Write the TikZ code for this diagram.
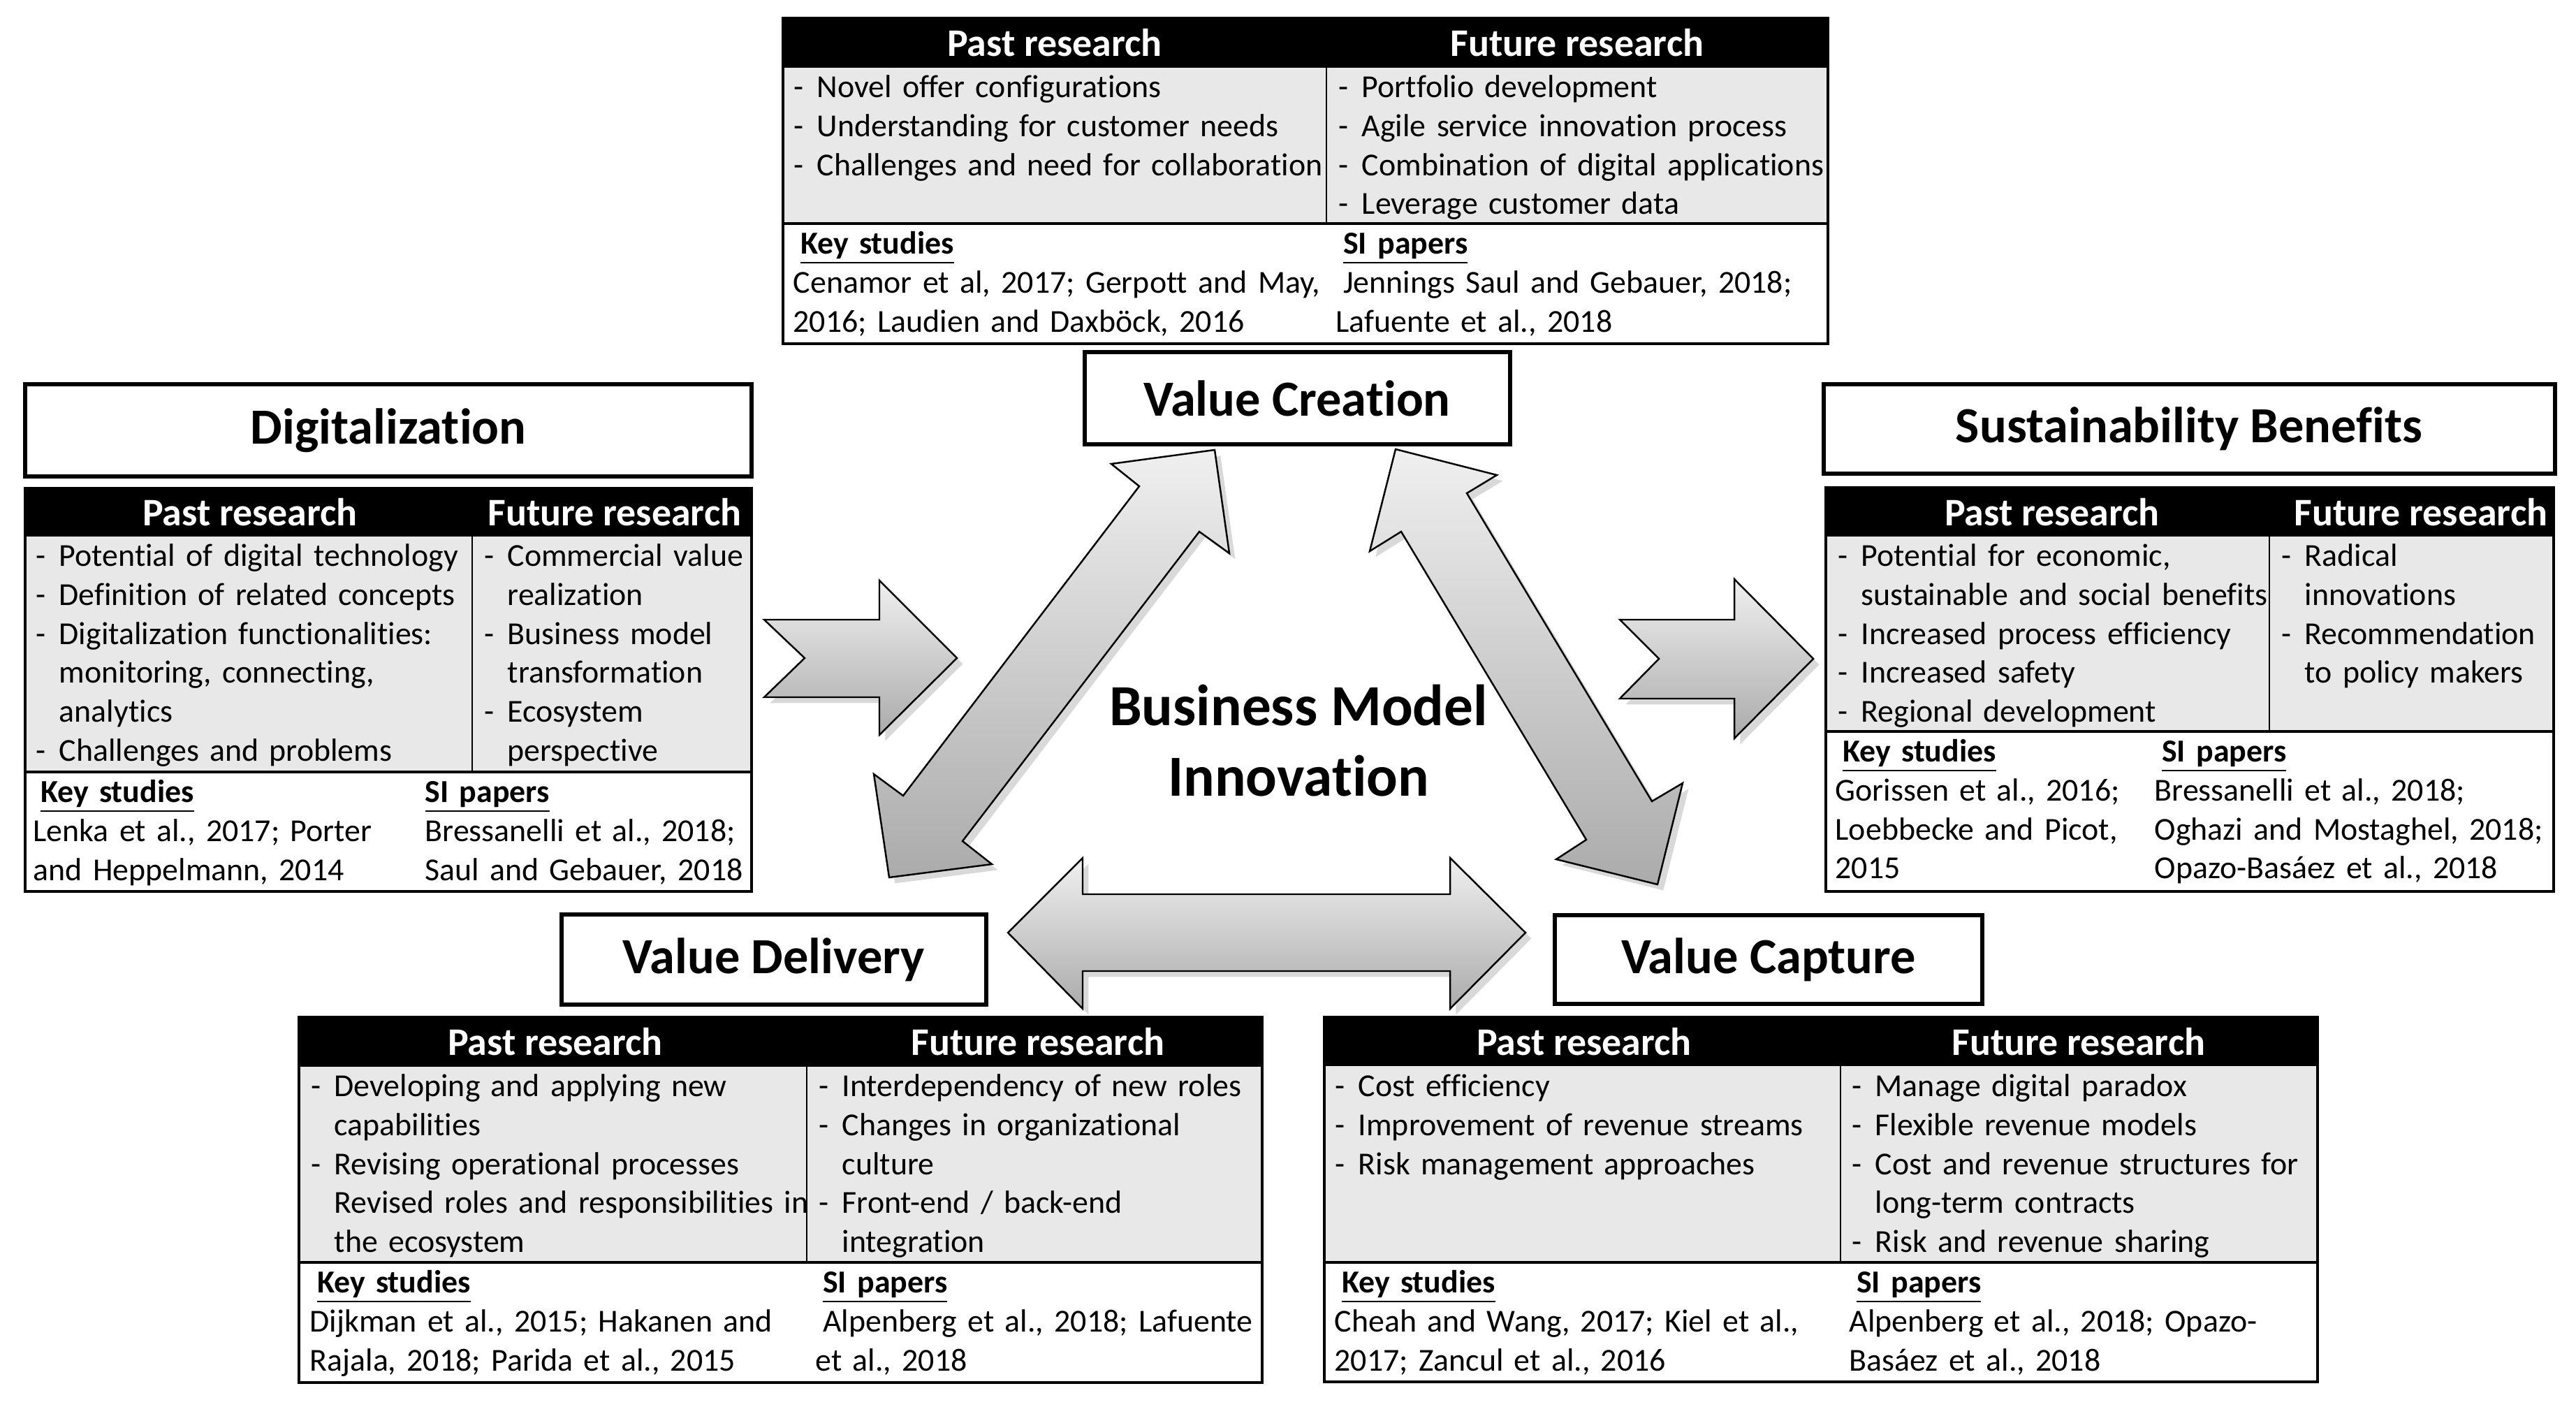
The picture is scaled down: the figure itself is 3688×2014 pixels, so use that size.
\documentclass[tikz,border=0pt]{standalone}
\usepackage{fontspec}
\setmainfont{Carlito}[Ligatures=NoCommon]
\usetikzlibrary{shadows}

\newcommand{\bodyfont}{\fontsize{13.05pt}{15.85pt}\selectfont}
\newcommand{\headfont}{\fontsize{15.9pt}{19pt}\selectfont\bfseries}
\newcommand{\titlefont}{\fontsize{20.6pt}{24pt}\selectfont\bfseries}
\newcommand{\bmifont}{\fontsize{23.7pt}{28.7pt}\selectfont\bfseries}
\newcommand{\itm}[1]{\hangindent=9.4pt\hangafter=1\noindent\strut\makebox[9.4pt][l]{-}#1\par}
\newcommand{\itmx}[1]{\hangindent=9.4pt\hangafter=0\noindent\strut#1\par}
\newcommand{\ks}[1]{\noindent\strut\hspace*{3pt}\textbf{\underline{#1}}\par}
\newcommand{\txt}[1]{\noindent\strut#1\par}

\begin{document}
\begin{tikzpicture}[x=0.1mm, y=-0.1mm,
  titlebox/.style={line width=1.5pt, fill=white, drop shadow={opacity=0.25, shadow xshift=0.8pt, shadow yshift=-0.8pt}},
  titletxt/.style={font=\titlefont},
  headtxt/.style={text=white, font=\headfont},
  bodytxt/.style={anchor=north west, inner sep=0pt, text width=90mm, align=left, font=\bodyfont},
  frame/.style={line width=0.9pt},
  blockarrow/.style={draw=black, line width=0.7pt, top color=black!6, bottom color=black!33, drop shadow={opacity=0.3}}]

\useasboundingbox (0,0) rectangle (3688,2014);

%% block arrows
\draw[blockarrow] (1094,887) -- (1259,887) -- (1259,831) -- (1370,942) -- (1259,1052) -- (1259,998) -- (1094,998) -- (1152,942) -- cycle;   %% digitalization -> BMI
\draw[blockarrow] (2319,887) -- (2483,887) -- (2483,829) -- (2596,943) -- (2483,1057) -- (2483,1000) -- (2319,1000) -- (2375,943) -- cycle;  %% BMI -> sustainability
\draw[blockarrow] (1739,644) -- (1591,664) -- (1631,696) -- (1293,1139) -- (1251,1108) -- (1273,1256) -- (1420,1237) -- (1378,1204) -- (1717,761) -- (1760,792) -- cycle;  %% creation <-> delivery
\draw[blockarrow] (1998,643) -- (2143,680) -- (2100,706) -- (2365,1147) -- (2409,1121) -- (2373,1266) -- (2228,1230) -- (2271,1202) -- (2006,761) -- (1961,789) -- cycle;  %% creation <-> capture
\draw[blockarrow] (1443,1335) -- (1550,1228) -- (1550,1280) -- (2076,1280) -- (2076,1228) -- (2184,1335) -- (2076,1444) -- (2076,1390) -- (1550,1390) -- (1550,1444) -- cycle;  %% delivery <-> capture

\node[font=\bmifont, align=center] (bmi) at (1859,1060) {Business Model\\Innovation};

%% title boxes
\draw[titlebox] (1553,504) rectangle (2162,636);
\node[titletxt] (vcr) at (1857,570) {Value Creation};
\draw[titlebox] (36,550) rectangle (1076,682);
\node[titletxt] (dig) at (556,616) {Digitalization};
\draw[titlebox] (2611,550) rectangle (3658,678);
\node[titletxt] (sus) at (3134,614) {Sustainability Benefits};
\draw[titlebox] (804,1309) rectangle (1412,1438);
\node[titletxt] (vdl) at (1108,1374) {Value Delivery};
\draw[titlebox] (2226,1310) rectangle (2838,1437);
\node[titletxt] (vca) at (2532,1374) {Value Capture};

%% value creation table
\fill[black] (1121,26) rectangle (2617,97);
\fill[black!9] (1121,97) rectangle (2617,320);
\draw (1899,97) -- (1899,320);
\draw[line width=1.2pt] (1121,320) -- (2617,320);
\draw[frame] (1121,26) rectangle (2617,492);
\node[headtxt] (vcrpast) at (1510,61) {Past research};
\node[headtxt] (vcrfut) at (2258,61) {Future research};
\node[bodytxt] (vcrpastl) at (1136,100) {\itm{Novel offer configurations}\itm{Understanding for customer needs}\itm{Challenges and need for collaboration}};
\node[bodytxt] (vcrfutl) at (1916,100) {\itm{Portfolio development}\itm{Agile service innovation process}\itm{Combination of digital applications}\itm{Leverage customer data}};
\node[bodytxt] (vcrkey) at (1135,324) {\ks{Key studies}\txt{Cenamor et al, 2017; Gerpott and May,\newline 2016; Laudien and Daxböck, 2016}};
\node[bodytxt] (vcrsi) at (1912,324) {\ks{SI papers}\txt{\hspace*{3pt}Jennings Saul and Gebauer, 2018;\newline Lafuente et al., 2018}};

%% digitalization table
\fill[black] (36,699) rectangle (1076,768);
\fill[black!9] (36,768) rectangle (1076,1105);
\draw (676,768) -- (676,1105);
\draw[line width=1.2pt] (36,1105) -- (1076,1105);
\draw[frame] (36,699) rectangle (1076,1276);
\node[headtxt] (digpast) at (358,733) {Past research};
\node[headtxt] (digfut) at (880,733) {Future research};
\node[bodytxt] (digpastl) at (51,771) {\itm{Potential of digital technology}\itm{Definition of related concepts}\itm{Digitalization functionalities:\newline monitoring, connecting,\newline analytics}\itm{Challenges and problems}};
\node[bodytxt] (digfutl) at (693,771) {\itm{Commercial value\newline realization}\itm{Business model\newline transformation}\itm{Ecosystem\newline perspective}};
\node[bodytxt] (digkey) at (47,1109) {\ks{Key studies}\txt{Lenka et al., 2017; Porter\newline and Heppelmann, 2014}};
\node[bodytxt] (digsi) at (608,1109) {\txt{\textbf{\underline{SI papers}}}\txt{Bressanelli et al., 2018;\newline Saul and Gebauer, 2018}};

%% sustainability table
\fill[black] (2614,698) rectangle (3656,768);
\fill[black!9] (2614,768) rectangle (3656,1047);
\draw (3249,768) -- (3249,1047);
\draw[line width=1.2pt] (2614,1047) -- (3656,1047);
\draw[frame] (2614,698) rectangle (3656,1276);
\node[headtxt] (suspast) at (2938,733) {Past research};
\node[headtxt] (susfut) at (3466,733) {Future research};
\node[bodytxt] (suspastl) at (2631,771) {\itm{Potential for economic,\newline sustainable and social benefits}\itm{Increased process efficiency}\itm{Increased safety}\itm{Regional development}};
\node[bodytxt] (susfutl) at (3266,771) {\itm{Radical\newline innovations}\itm{Recommendation\newline to policy makers}};
\node[bodytxt] (suskey) at (2627,1051) {\ks{Key studies}\txt{Gorissen et al., 2016;\newline Loebbecke and Picot,\newline 2015}};
\node[bodytxt] (sussi) at (3084,1051) {\ks{SI papers}\txt{Bressanelli et al., 2018;\newline Oghazi and Mostaghel, 2018;\newline Opazo-Basáez et al., 2018}};

%% value delivery table
\fill[black] (428,1456) rectangle (1807,1527);
\fill[black!9] (428,1527) rectangle (1807,1807);
\draw (1155,1527) -- (1155,1807);
\draw[line width=1.2pt] (428,1807) -- (1807,1807);
\draw[frame] (428,1456) rectangle (1807,1979);
\node[headtxt] (vdlpast) at (795,1491) {Past research};
\node[headtxt] (vdlfut) at (1486,1491) {Future research};
\node[bodytxt] (vdlpastl) at (445,1530) {\itm{Developing and applying new\newline capabilities}\itm{Revising operational processes}\itmx{Revised roles and responsibilities in\newline the ecosystem}};
\node[bodytxt] (vdlfutl) at (1172,1530) {\itm{Interdependency of new roles}\itm{Changes in organizational\newline culture}\itm{Front-end / back-end\newline integration}};
\node[bodytxt] (vdlkey) at (443,1811) {\ks{Key studies}\txt{Dijkman et al., 2015; Hakanen and\newline Rajala, 2018; Parida et al., 2015}};
\node[bodytxt] (vdlsi) at (1167,1811) {\ks{SI papers}\txt{\hspace*{3pt}Alpenberg et al., 2018; Lafuente\newline et al., 2018}};

%% value capture table
\fill[black] (1896,1456) rectangle (3318,1526);
\fill[black!9] (1896,1526) rectangle (3318,1807);
\draw (2635,1526) -- (2635,1807);
\draw[line width=1.2pt] (1896,1807) -- (3318,1807);
\draw[frame] (1896,1456) rectangle (3318,1978);
\node[headtxt] (vcapast) at (2268,1491) {Past research};
\node[headtxt] (vcafut) at (2976,1491) {Future research};
\node[bodytxt] (vcapastl) at (1911,1530) {\itm{Cost efficiency}\itm{Improvement of revenue streams}\itm{Risk management approaches}};
\node[bodytxt] (vcafutl) at (2651,1530) {\itm{Manage digital paradox}\itm{Flexible revenue models}\itm{Cost and revenue structures for\newline long-term contracts}\itm{Risk and revenue sharing}};
\node[bodytxt] (vcakey) at (1910,1811) {\ks{Key studies}\txt{Cheah and Wang, 2017; Kiel et al.,\newline 2017; Zancul et al., 2016}};
\node[bodytxt] (vcasi) at (2647,1811) {\ks{SI papers}\txt{Alpenberg et al., 2018; Opazo-\newline Basáez et al., 2018}};

\end{tikzpicture}
\end{document}
